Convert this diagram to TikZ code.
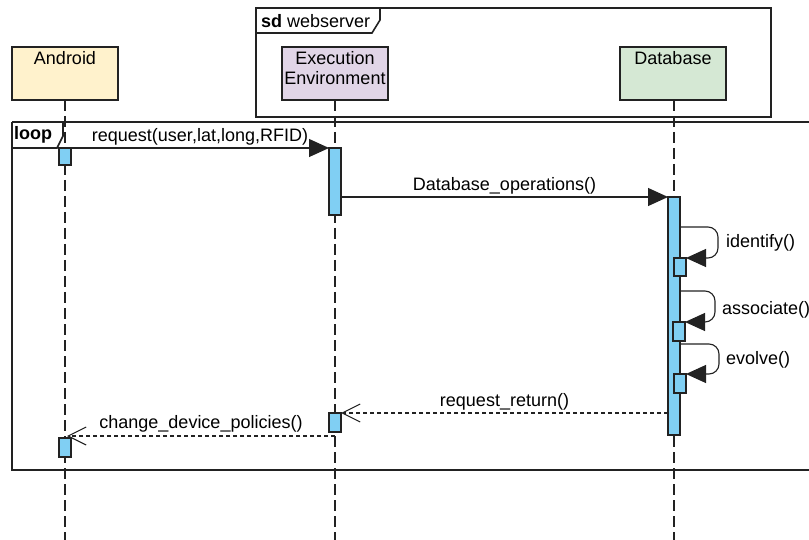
\documentclass[tikz,border=0pt]{standalone}
\usepackage{fontspec}
\setmainfont{Liberation Sans}
\usetikzlibrary{arrows.meta,calc}
\definecolor{actblue}{HTML}{80CFF3}
\definecolor{andfill}{HTML}{FFF2CC}
\definecolor{eefill}{HTML}{E1D5E7}
\definecolor{dbfill}{HTML}{D5E8D4}
\definecolor{ink}{HTML}{222222}
\tikzset{
  actor/.style={draw=ink, line width=1.3pt, minimum width=106pt, minimum height=53pt, anchor=north west, inner sep=0pt, outer sep=0pt},
  actlabel/.style={anchor=north, inner sep=0pt, align=center},
  act/.style={draw=ink, fill=actblue, line width=1.2pt, inner sep=0pt, outer sep=0pt, minimum width=12pt, anchor=north},
  life/.style={draw=ink, line width=1.1pt, dash pattern=on 11pt off 5pt},
  frame/.style={draw=ink, line width=1.6pt},
  syncmsg/.style={draw=ink, line width=1.1pt, -{Triangle[length=20pt,width=18pt]}},
  retmsg/.style={draw=ink, line width=1.1pt, dash pattern=on 4pt off 3pt, -{Straight Barb[length=18pt,width=18pt]}},
  selfmsg/.style={draw=ink, line width=1.1pt, rounded corners=10pt, -{Triangle[length=20pt,width=18pt]}},
  msglabel/.style={inner sep=1pt, text=black}
}
\begin{document}
\begin{tikzpicture}[x=1pt,y=-1pt,font=\fontsize{18}{21}\selectfont]
\useasboundingbox (0,0) rectangle (809,540);
\fill[white] (0,0) rectangle (809,540);

% lifeline end points
\coordinate (andtop) at (65,100);
\coordinate (eetop) at (335,100);
\coordinate (dbtop) at (674,100);
\coordinate (andend) at (65,545);
\coordinate (eeend) at (335,545);
\coordinate (dbend) at (674,545);
\draw[life] (andtop) -- (andend);
\draw[life] (eetop) -- (eeend);
\draw[life] (dbtop) -- (dbend);

% sd frame
\draw[frame] (256,8) rectangle (771,117);
\draw[frame] (256,33) -- (372,33) -- (380,20) -- (380,8);
\node[anchor=west, inner sep=0pt] (sdlab) at (261,21) {\textbf{sd} webserver};

% actors
\node[actor, fill=andfill] (android) at (12,47) {};
\node[actlabel] (androidlab) at ($(android.north)+(0,4)$) {Android};
\node[actor, fill=eefill] (ee) at (282,47) {};
\node[actlabel] (eelab) at ($(ee.north)+(0,4)$) {Execution\\[-1pt]Environment};
\node[actor, fill=dbfill] (db) at (620,47) {};
\node[actlabel] (dblab) at ($(db.north)+(0,4)$) {Database};

% loop frame
\draw[frame] (12,122) -- (815,122);
\draw[frame] (12,122) -- (12,470) -- (815,470);
\draw[frame] (12,148) -- (57,148) -- (63,136) -- (63,122);
\node[anchor=west, inner sep=0pt] (looplab) at (14,135) {\textbf{loop}};

% activations
\node[act, minimum height=17pt] (a1) at (65,148) {};
\node[act, minimum height=67pt] (e1) at (335,148) {};
\node[act, minimum height=238pt] (d1) at (674,197) {};
\node[act, minimum height=18pt] (i1) at (680,258) {};
\node[act, minimum height=19pt] (s1) at (679,322) {};
\node[act, minimum height=19pt] (v1) at (680,374) {};
\node[act, minimum height=19pt] (e2) at (335,413) {};
\node[act, minimum height=19pt] (a2) at (65,438) {};

% messages
\draw[syncmsg] (a1.north east) -- node[msglabel, above=1pt] {request(user,lat,long,RFID)} (e1.north west);
\draw[syncmsg] (e1.east |- d1.north) -- node[msglabel, above=1pt] {Database\_operations()} (d1.north west);

\draw[selfmsg] (d1.east |- 0,227) -- (718,227) -- (718,258) -- (i1.north east);
\node[anchor=west, msglabel] (idlab) at (725,243) {identify()};
\draw[selfmsg] (d1.east |- 0,291) -- (715,291) -- (715,322) -- (s1.north east);
\node[anchor=west, msglabel] (aslab) at (721,310) {associate()};
\draw[selfmsg] (d1.east |- 0,344) -- (719,344) -- (719,374) -- (v1.north east);
\node[anchor=west, msglabel] (evlab) at (725,360) {evolve()};

\draw[retmsg] (d1.west |- e2.north) -- node[msglabel, above=1pt] {request\_return()} (e2.north east);
\coordinate (cdp) at ($(e2.south)+(0,4)$);
\draw[retmsg] (cdp) -- node[msglabel, above=2pt] {change\_device\_policies()} ($(cdp -| a2.north)+(2,0)$);
\end{tikzpicture}
\end{document}
